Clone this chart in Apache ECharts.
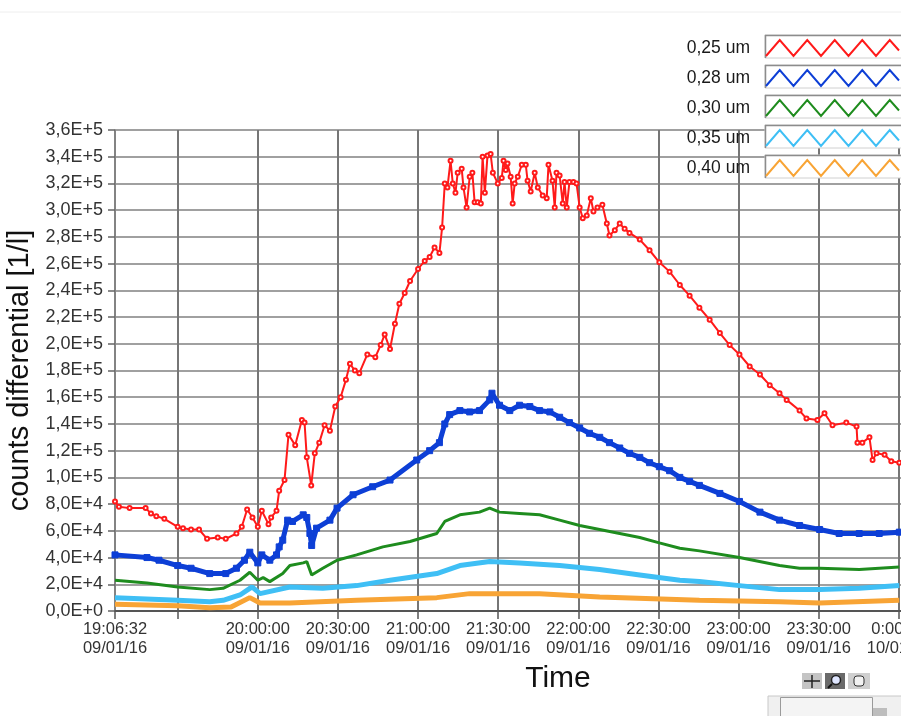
<!DOCTYPE html>
<html>
<head>
<meta charset="utf-8">
<script src="https://cdn.jsdelivr.net/npm/echarts@6/dist/echarts.min.js"></script>
<style>
html,body{margin:0;padding:0;background:#fff;}
#chart{width:901px;height:716px;}
</style>
</head>
<body>
<div id="chart"></div>
<script>
// ---------- DATA ----------
const seriesNames = ["0,25 um", "0,28 um", "0,30 um", "0,35 um", "0,40 um"];
const seriesColors = ["#ff1a1a", "#0d3fd6", "#1e8c1e", "#3fbff5", "#f8a435"];

const t025 = ["19:06:32","19:08","19:12","19:18","19:20","19:22","19:25","19:30","19:32","19:35",
"19:38","19:41","19:45","19:48","19:52","19:54","19:56","19:58","20:00","20:01:30",
"20:04","20:05","20:07","20:08","20:10","20:11:30","20:14","20:16:30","20:17:30","20:18:20",
"20:20","20:21:20","20:23","20:25","20:27","20:29","20:31","20:33","20:34:30","20:36:20",
"20:38","20:41","20:44","20:46","20:47:30","20:49:30","20:51:20","20:53","20:55","20:57",
"21:00","21:02:30","21:04:20","21:06:10","21:08","21:09","21:10","21:11","21:12:10","21:13",
"21:14","21:14:50","21:16:20","21:17","21:18:10","21:19:20","21:20:20","21:21:10","21:22:20","21:23:30",
"21:24:10","21:25","21:26","21:27:10","21:28","21:29:50","21:31:20","21:32","21:32:50","21:33:30",
"21:34:40","21:35:25","21:36:10","21:37:20","21:38:50","21:40:20","21:41","21:42:10","21:43:40","21:44:50",
"21:46:40","21:48:10","21:48:50","21:50:20","21:51:10","21:51:50","21:53","21:54:10","21:54:50","21:55:40",
"21:56:40","21:58:10","21:59:20","22:00:30","22:01:40","22:03:10","22:04:40","22:05:40","22:07:10","22:09",
"22:10:40","22:11:40","22:13:40","22:15:30","22:17:20","22:19:10","22:23","22:26:40","22:30:20","22:34:10",
"22:38","22:41:40","22:45:20","22:49:10","22:53","22:56:40","23:00:20","23:04:10","23:08","23:11:40",
"23:15:20","23:18","23:22:50","23:25:25","23:29:30","23:32:10","23:35:10","23:40:20","23:44:10","23:44:30",
"23:46:20","23:49","23:50:10","23:51:40","23:54:40","23:57:10","00:00:10"];
const v025 = [82000,78000,77000,77000,73000,71000,69000,63000,62000,61000,
61000,54000,55000,54000,58000,63000,76000,70000,63000,75000,
65000,70000,75000,90000,98000,132000,124000,143000,141000,115000,
94000,118000,126000,139000,135000,153000,160000,173000,185000,180000,
178000,192000,190000,199000,207000,196000,215000,230000,238000,247000,
256000,262000,265000,272000,268000,287000,320000,317000,337000,320000,
313000,328000,331000,317000,302000,325000,328000,306000,306000,305000,
340000,313000,341000,342000,328000,320000,324000,337000,330000,335000,
325000,305000,320000,325000,334000,334000,322000,314000,328000,317000,
311000,309000,334000,322000,302000,328000,326000,305000,321000,302000,
321000,321000,320000,302000,294000,296000,309000,299000,302000,304000,
290000,281000,285000,290000,286000,283000,278000,270000,261000,254000,
244000,236000,227000,218000,208000,199000,192000,183000,177000,169000,
163000,158000,150000,144000,143000,148000,139000,141000,138000,126000,
126000,130000,113000,118000,117000,112000,111000];

const t028 = ["19:06:32","19:18:30","19:23","19:30","19:35","19:42","19:48","19:52","19:55","19:57",
"20:00","20:01:30","20:04:30","20:07","20:08","20:09:20","20:11:10","20:13","20:17","20:18:20",
"20:19:30","20:20:10","20:22","20:27","20:29:40","20:35:40","20:43","20:49:30","20:59:30","21:04:20",
"21:08","21:10","21:11:50","21:15:40","21:19:20","21:23","21:26:50","21:27:40","21:30:30","21:34:20",
"21:38","21:41:50","21:45:30","21:49:20","21:53","21:56:40","22:00:30","22:04:10","22:08","22:11:40",
"22:15:30","22:19:10","22:23","22:26:40","22:30:20","22:34:10","22:38","22:41:40","22:45:20","22:53",
"23:00:20","23:08","23:15:20","23:22:50","23:30:20","23:37:40","23:45:10","23:52:40","00:00:10"];
const v028 = [42000,40000,38000,34000,32000,28000,28000,32000,38000,44000,
36000,42000,38000,42000,48000,53000,68000,67000,72000,70000,
58000,49000,62000,68000,77000,87000,93000,98000,113000,120000,
126000,140000,147000,150000,149000,150000,158000,163000,154000,150000,
154000,153000,150000,149000,145000,141000,137000,133000,130000,126000,
122000,118000,115000,111000,108000,105000,100000,97000,94000,88000,
82000,74000,68000,64000,61000,58000,58000,58000,59000];

const t030 = ["19:06:32","19:18:30","19:30","19:42","19:47","19:53:20","19:57","20:00","20:02","20:04:30",
"20:09:20","20:12","20:17","20:18:20","20:20:10","20:24:20","20:29:40","20:37","20:46:50","20:57",
"21:07","21:10","21:15:40","21:23","21:26:50","21:30:30","21:38","21:45:30","21:53","22:00:30",
"22:08","22:15:30","22:23","22:30:20","22:38","22:45:20","23:00:20","23:15:20","23:22:50","23:30:20",
"23:45:10","00:00:10"];
const v030 = [23000,21000,18000,16000,17000,23000,29000,23000,25000,22000,
28000,34000,36000,37000,27000,32000,38000,42000,48000,52000,
58000,67000,72000,74000,77000,74000,73000,72000,68000,64000,
61000,58000,55000,51000,47000,45000,40000,34000,32000,32000,
31000,33000];

const t035 = ["19:06:32","19:30","19:42","19:47","19:53:20","19:57:50","20:00:50","20:12","20:24:20","20:37",
"20:49:30","21:07","21:15:40","21:26:50","21:38","21:53","22:08","22:23","22:38","22:45:20",
"23:00:20","23:15:20","23:30:20","23:45:10","00:00:10"];
const v035 = [10000,8000,7000,8000,12000,18000,13000,18000,17000,19000,
23000,28000,34000,37000,36000,34000,31000,27000,23000,22000,
19000,16000,16000,17000,19000];

const t040 = ["19:06:32","19:30","19:42","19:50","19:57","20:00:50","20:12","20:37","21:07","21:19:20",
"21:45:30","22:08","22:45:20","23:15:20","23:30:20","00:00:10"];
const v040 = [5000,4000,2500,3000,10000,6000,6000,8000,10000,13000,
13000,10500,8000,7000,6000,8000];

// axis
const xStart = "19:06:32";
const xEnd = "00:38:15";
const xTickTimes = ["19:06:32","19:30","20:00","20:30","21:00","21:30","22:00","22:30","23:00","23:30","00:00","00:30"];
const xLabelTimes = ["19:06:32","20:00","20:30","21:00","21:30","22:00","22:30","23:00","23:30","00:00","00:30"];
const yMin = 0, yMax = 360000, yStep = 20000;

// ---------- helpers ----------
function toMin(s) {
  const p = s.split(':').map(Number);
  let m = p[0] * 60 + p[1] + (p[2] || 0) / 60;
  if (p[0] < 12) m += 1440;
  return m;
}
function fmtTime(v) {
  let sec = Math.round(v * 60);
  let day = "09/01/16";
  if (sec >= 86400) { sec -= 86400; day = "10/01/16"; }
  const h = Math.floor(sec / 3600), mi = Math.floor((sec % 3600) / 60), s = sec % 60;
  return String(h) + ":" + String(mi).padStart(2, "0") + ":" + String(s).padStart(2, "0") + "\n" + day;
}
function fmtSci(v) {
  if (v === 0) return "0,0E+0";
  const e = Math.floor(Math.log10(v) + 1e-9);
  const m = v / Math.pow(10, e);
  return m.toFixed(1).replace(".", ",") + "E+" + e;
}
function pairs(t, v) { return t.map((s, i) => [toMin(s), v[i]]); }

const allT = [t025, t028, t030, t035, t040];
const allV = [v025, v028, v030, v035, v040];
const styles = [
  { lw: 2, symbol: "emptyCircle", size: 4 },
  { lw: 5, symbol: "rect", size: 6 },
  { lw: 3, symbol: "none", size: 0 },
  { lw: 5, symbol: "none", size: 0 },
  { lw: 5, symbol: "none", size: 0 }
];

const FONT = "'Liberation Sans', Arial, sans-serif";
const chart = echarts.init(document.getElementById("chart"), null, { renderer: "canvas" });

const series = seriesNames.map((n, i) => ({
  name: n,
  type: "line",
  data: pairs(allT[i], allV[i]),
  color: seriesColors[i],
  lineStyle: { width: styles[i].lw, color: seriesColors[i] },
  symbol: styles[i].symbol,
  symbolSize: styles[i].size,
  showSymbol: styles[i].symbol !== "none",
  showAllSymbol: true,
  itemStyle: { color: seriesColors[i], borderColor: seriesColors[i], borderWidth: 1 },
  emphasis: { disabled: true },
  z: 2 + i * 0.01
}));

// zigzag legend icon 133 x 16
let zz = "M0,16";
for (let k = 1; k <= 9; k++) zz += " L" + (k * 13.75) + "," + (k % 2 ? 0 : 16);
zz += " L133,10.5";
const zzPath = "path://" + zz;

const legendData = seriesNames.map((n, i) => ({
  name: n,
  icon: zzPath,
  itemStyle: { color: "transparent", borderColor: seriesColors[i], borderWidth: 2 }
}));

const graphics = [
  { type: "line", shape: { x1: 0, y1: 12, x2: 901, y2: 12 }, style: { stroke: "#eeeeee", lineWidth: 1 }, silent: true }
];
for (let i = 0; i < seriesNames.length; i++) {
  const y0 = 35 + 30 * i;
  graphics.push({ type: "rect", z: 3, shape: { x: 765, y: y0, width: 140, height: 23 }, style: { fill: "#ffffff", stroke: "#d0d0d0", lineWidth: 1 }, silent: true });
  graphics.push({ type: "polyline", z: 3, shape: { points: [[765.5, y0 + 23], [765.5, y0 + 0.5], [905, y0 + 0.5]] }, style: { fill: null, stroke: "#8c8c8c", lineWidth: 1.5 }, silent: true });
}
// toolbar look-alike (bottom right)
graphics.push({ type: "rect", shape: { x: 802, y: 673, width: 20, height: 16 }, style: { fill: "#c4c4c4" }, silent: true });
graphics.push({ type: "line", shape: { x1: 804, y1: 681, x2: 820, y2: 681 }, style: { stroke: "#222", lineWidth: 1.5 }, silent: true });
graphics.push({ type: "line", shape: { x1: 812, y1: 675, x2: 812, y2: 688 }, style: { stroke: "#222", lineWidth: 1.5 }, silent: true });
graphics.push({ type: "rect", shape: { x: 825, y: 673, width: 20, height: 16 }, style: { fill: "#6a6a6a" }, silent: true });
graphics.push({ type: "circle", shape: { cx: 836, cy: 680, r: 4.5 }, style: { fill: "#dfe6ff", stroke: "#222", lineWidth: 1.5 }, silent: true });
graphics.push({ type: "line", shape: { x1: 832, y1: 684, x2: 828, y2: 688 }, style: { stroke: "#111", lineWidth: 2 }, silent: true });
graphics.push({ type: "rect", shape: { x: 848, y: 673, width: 22, height: 16 }, style: { fill: "#cfcfcf" }, silent: true });
graphics.push({ type: "rect", shape: { x: 854, y: 676, width: 10, height: 10, r: 3 }, style: { fill: "#f2f2f2", stroke: "#333", lineWidth: 1 }, silent: true });
graphics.push({ type: "rect", shape: { x: 768, y: 696, width: 140, height: 22 }, style: { fill: "#f0f0f0", stroke: "#c8c8c8", lineWidth: 1 }, silent: true });
graphics.push({ type: "rect", shape: { x: 780.5, y: 697.5, width: 92, height: 19 }, style: { fill: "#f4f4f4", stroke: "#9a9a9a", lineWidth: 1 }, silent: true });
graphics.push({ type: "rect", shape: { x: 873, y: 708, width: 14, height: 8 }, style: { fill: "#bdbdbd" }, silent: true });

chart.setOption({
  animation: false,
  backgroundColor: "#ffffff",
  textStyle: { fontFamily: FONT },
  grid: { left: 115, top: 130, height: 481, width: 886, containLabel: false, outerBoundsMode: "none" },
  legend: {
    data: legendData,
    orient: "vertical",
    right: 1,
    top: 39,
    align: "right",
    itemWidth: 133,
    itemHeight: 16,
    itemGap: 12,
    padding: 0,
    selectedMode: false,
    z: 6,
    textStyle: { fontSize: 17.5, color: "#1a1a1a", fontFamily: FONT, lineHeight: 16, padding: [0, 11, 0, 0] }
  },
  xAxis: {
    type: "value",
    min: toMin(xStart),
    max: toMin(xEnd),
    name: "Time",
    nameLocation: "middle",
    nameGap: 53,
    nameTextStyle: { fontSize: 30, color: "#111", fontFamily: FONT },
    axisLine: { show: true, onZero: false, lineStyle: { color: "#555", width: 2 } },
    axisTick: { show: true, length: 8, customValues: xTickTimes.map(toMin), lineStyle: { color: "#555", width: 1.5 } },
    axisLabel: { customValues: xLabelTimes.map(toMin), formatter: fmtTime, fontSize: 16.5, lineHeight: 19, color: "#333", margin: 9, fontFamily: FONT },
    splitLine: { show: true, lineStyle: { color: "#767676", width: 2 } }
  },
  yAxis: {
    type: "value",
    min: yMin,
    max: yMax,
    interval: yStep,
    name: "counts differential [1/l]",
    nameLocation: "middle",
    nameGap: 76,
    nameTextStyle: { fontSize: 29, color: "#111", fontFamily: FONT },
    axisLine: { show: true, lineStyle: { color: "#888", width: 1.5 } },
    axisTick: { show: true, length: 7, lineStyle: { color: "#666", width: 1.5 } },
    axisLabel: { formatter: fmtSci, fontSize: 18, color: "#333", margin: 12, fontFamily: FONT },
    splitLine: { show: true, lineStyle: { color: "#a0a0a0", width: 2 } }
  },
  graphic: graphics,
  series: series
});
</script>
</body>
</html>
